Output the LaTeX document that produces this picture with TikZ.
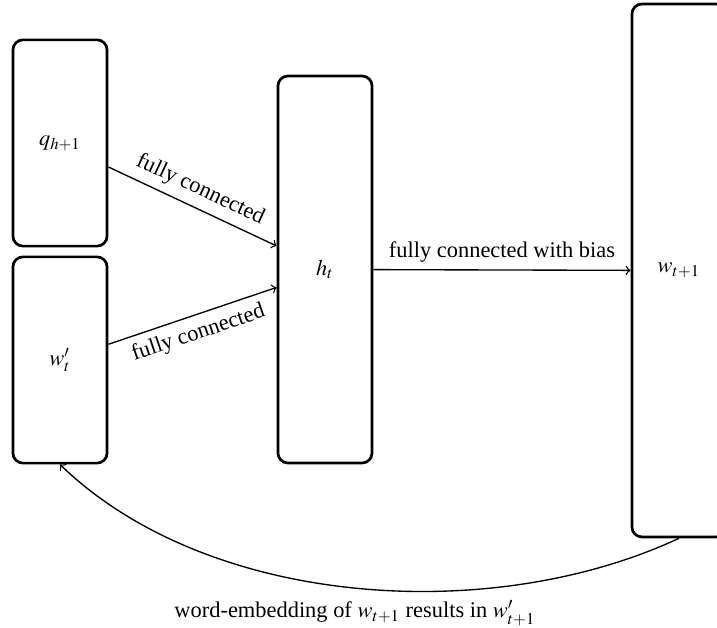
\documentclass[tikz,border=0pt]{standalone}
\usepackage{amsmath}
\usepackage{mathptmx}
\usepackage{fontspec}
\setmainfont{Liberation Serif}
\usepackage{tikz}
\usetikzlibrary{arrows}
\tikzset{>=to}

\begin{document}
\begin{tikzpicture}[x=0.446pt, y=0.446pt]
  % layer = one vector drawn as a tall box
  \tikzstyle{layer}=[draw=black, very thick, rounded corners=4.5pt, minimum width=42pt, inner sep=0pt]
  \tikzstyle{every edge}=[draw, black, ->, semithick]
  \useasboundingbox (0,0) rectangle (717,628);

  \node[layer, minimum height=92pt] (q) at (60,485) {$q_{h+1}$};
  \node[layer, minimum height=92pt] (wp) at (60,268) {$w'_t$};
  \node[layer, minimum height=172.6pt] (h) at (325,358.5) {$h_t$};
  \node[layer, minimum height=237.7pt] (wn) at (679,357.5) {$w_{t+1}$};

  \draw ([yshift=-10.7pt]q.east) edge node[above, sloped] {fully connected} ([yshift=10.5pt]h.west);
  \draw ([yshift=7pt]wp.east) edge node[below, sloped] {fully connected} ([yshift=-8pt]h.west);
  \draw (h) edge node[above] {fully connected with bias} (wn);

  \draw[->, semithick] (wn.south) to[out=-155, in=-44, looseness=0.85]
        node[pos=0.5, below=2pt] {word-embedding of $w_{t+1}$ results in $w'_{t+1}$} (wp.south);
\end{tikzpicture}
\end{document}
